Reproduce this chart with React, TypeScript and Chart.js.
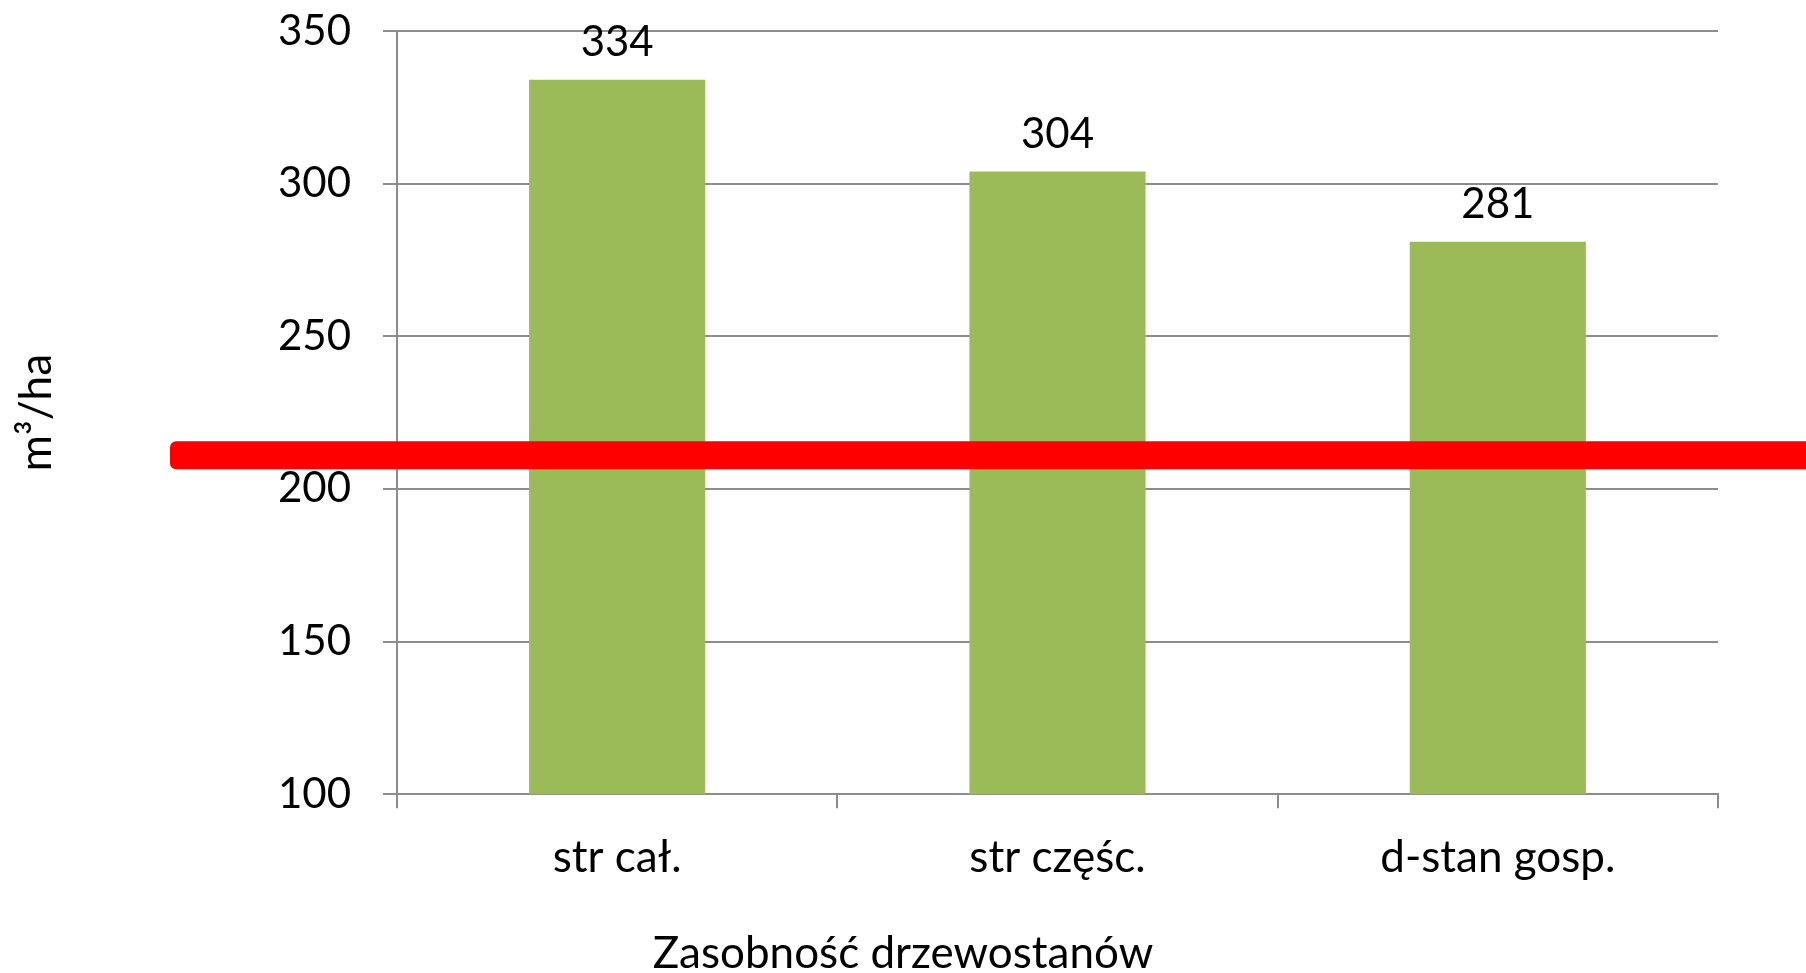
import React, { useEffect, useRef } from "react";
import { Chart, registerables } from "chart.js";

Chart.register(...registerables);

const categories = ["str cał.", "str częśc.", "d-stan gosp."];
const values = [334, 304, 281];
const yTicks = [100, 150, 200, 250, 300, 350];
const thresholdValue = [211];
const yTitle = "m³/ha";
const xTitle = "Zasobność drzewostanów";

const FONT = "Lato";
const GRID = "#8c8c8c";

const valueLabels = {
  id: "valueLabels",
  afterDatasetsDraw(chart: any) {
    const ctx = chart.ctx;
    const meta = chart.getDatasetMeta(0);
    ctx.save();
    ctx.font = `42px ${FONT}`;
    ctx.fillStyle = "#000";
    ctx.textAlign = "center";
    ctx.textBaseline = "middle";
    meta.data.forEach((bar: any, i: number) => {
      ctx.fillText(String(values[i]), bar.x, bar.y - 37);
    });
    ctx.restore();
  },
};

const redLine = {
  id: "redLine",
  afterDraw(chart: any) {
    const ctx = chart.ctx;
    const y = chart.scales.y.getPixelForValue(thresholdValue[0]);
    const h = 28;
    ctx.save();
    ctx.fillStyle = "#ff0000";
    ctx.beginPath();
    ctx.roundRect(170, y - h / 2, chart.width + 20 - 170, h, 6);
    ctx.fill();
    ctx.restore();
  },
};

export default function App() {
  const ref = useRef<HTMLCanvasElement>(null);
  useEffect(() => {
    if (!ref.current) return;
    Chart.defaults.font.family = FONT;
    Chart.defaults.color = "#000";
    const chart = new Chart(ref.current, {
      type: "bar",
      data: {
        labels: categories,
        datasets: [
          {
            data: values,
            backgroundColor: "#9bbb59",
            borderWidth: 0,
            barPercentage: 0.4,
            categoryPercentage: 1,
          },
        ],
      },
      options: {
        animation: false,
        responsive: true,
        maintainAspectRatio: false,
        layout: { padding: { left: 0, right: 0, top: 31, bottom: 0 } },
        plugins: {
          legend: { display: false },
          tooltip: { enabled: false },
          title: {
            display: true,
            text: xTitle,
            position: "bottom",
            color: "#000",
            font: { size: 44, weight: "normal", lineHeight: 0.86 },
            padding: { top: 0, bottom: 0 },
          },
        },
        scales: {
          x: {
            offset: true,
            grid: {
              offset: true,
              drawOnChartArea: false,
              drawTicks: true,
              tickLength: 14,
              color: GRID,
              lineWidth: 2,
            },
            border: { display: true, color: GRID, width: 2 },
            ticks: { font: { size: 44 }, padding: 23, color: "#000" },
            afterFit(scale: any) {
              scale.height = 141;
              scale.paddingLeft = 0;
              scale.paddingRight = 0;
            },
          },
          y: {
            min: 100,
            max: 350,
            afterBuildTicks(scale: any) {
              scale.ticks = yTicks.map((v) => ({ value: v }));
            },
            grid: {
              color: GRID,
              lineWidth: 2,
              drawTicks: true,
              tickLength: 14,
            },
            border: { display: true, color: GRID, width: 2 },
            ticks: { font: { size: 42 }, padding: 32, color: "#000" },
            title: {
              display: true,
              text: yTitle,
              color: "#000",
              font: { size: 44 },
              padding: { top: 10, bottom: 0 },
            },
            afterFit(scale: any) {
              scale.width = 397;
              scale.paddingTop = 0;
              scale.paddingBottom = 0;
            },
          },
          yRight: {
            position: "right",
            display: true,
            grid: { display: false, drawTicks: false },
            border: { display: false },
            ticks: { display: false },
            afterFit(scale: any) {
              scale.width = 88;
              scale.paddingTop = 0;
              scale.paddingBottom = 0;
            },
          },
        },
      },
      plugins: [valueLabels, redLine],
    });
    return () => chart.destroy();
  }, []);
  return (
    <div style={{ position: "absolute", left: 0, top: 0, width: 1806, height: 973, background: "#fff" }}>
      <canvas ref={ref} />
    </div>
  );
}
